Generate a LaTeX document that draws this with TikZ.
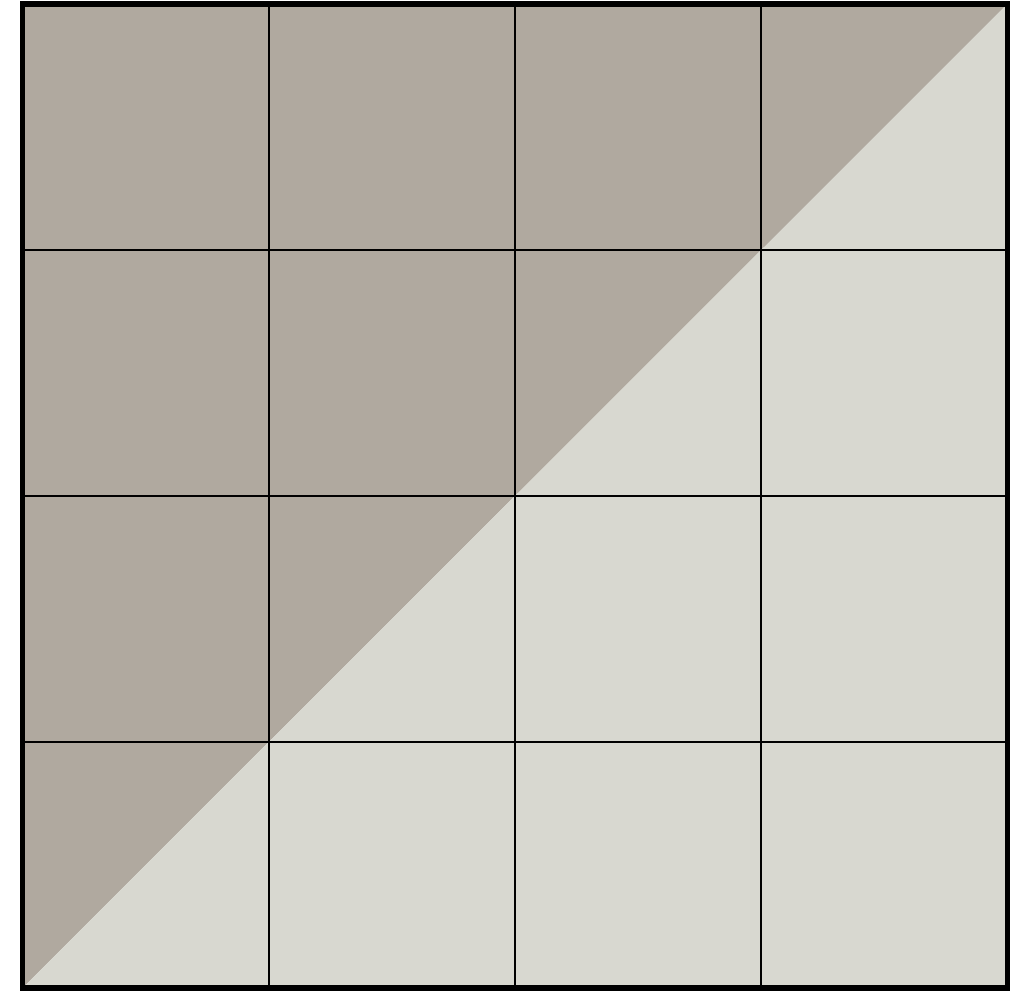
\documentclass[tikz,border=0pt]{standalone}
\usepackage{tikz}
\usetikzlibrary{calc}
\definecolor{upperfill}{RGB}{176,169,159}
\definecolor{lowerfill}{RGB}{216,216,208}

\begin{document}
\begin{tikzpicture}[x=0.01cm,y=0.01cm]
  % --- page size of the reference ---
  \useasboundingbox (0,0) rectangle (1016,992);
  % --- corners of the square ---
  \coordinate (sw) at (22.5,4);
  \coordinate (ne) at (1007.5,988);
  \coordinate (nw) at (22.5,988);
  \coordinate (se) at (1007.5,4);
  % --- the two halves, split along the diagonal ---
  \fill[upperfill] (sw) -- (nw) -- (ne) -- cycle;
  \fill[lowerfill] (sw) -- (se) -- (ne) -- cycle;
  % --- 4x4 grid ---
  \foreach \i in {1,2,3} {
    \draw[line width=0.45pt] ($(sw)!\i/4!(se)$) -- ($(nw)!\i/4!(ne)$);
    \draw[line width=0.45pt] ($(sw)!\i/4!(nw)$) -- ($(se)!\i/4!(ne)$);
  }
  % --- outer frame ---
  \draw[line width=1.5pt] (sw) rectangle (ne);
\end{tikzpicture}
\end{document}
